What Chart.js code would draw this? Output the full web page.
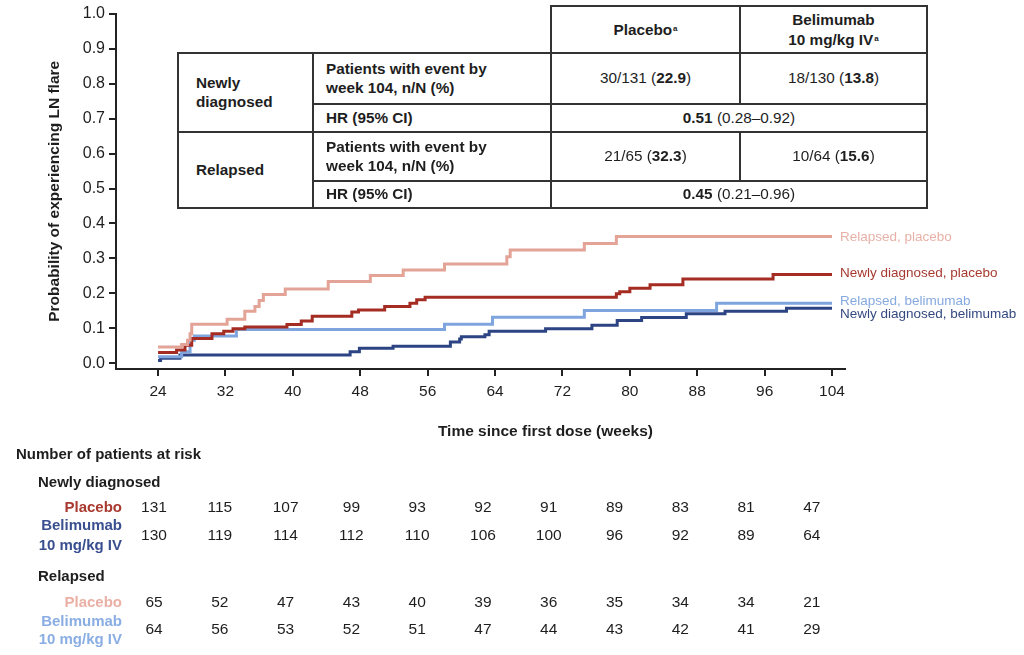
<!DOCTYPE html>
<html><head><meta charset="utf-8">
<script src="https://cdn.jsdelivr.net/npm/chart.js@4"></script>
<style>
html,body{margin:0;padding:0;background:#fff;}
#wrap{position:relative;width:1024px;height:655px;overflow:hidden;background:#fff;}
canvas{position:absolute;left:0;top:0;}
.c{position:absolute;box-sizing:border-box;border:2px solid #333;background:#fff;display:flex;align-items:center;font-family:"Liberation Sans",Arial,sans-serif;font-size:15.3px;color:#1e1e1e;line-height:18.5px;}
.ctr{justify-content:center;text-align:center;}
.lft{justify-content:flex-start;text-align:left;}
.b{font-weight:bold;}
.hd{line-height:20px;}
sup{font-size:8px;vertical-align:top;position:relative;top:-1px;margin-left:1px;}
</style></head><body>
<div id="wrap"><canvas id="c" width="1024" height="655"></canvas><div id="tbl"></div></div>
<script>
// ---------- data ----------
const xTicks = [24, 32, 40, 48, 56, 64, 72, 80, 88, 96, 104];
const yTicks = [0, 0.1, 0.2, 0.3, 0.4, 0.5, 0.6, 0.7, 0.8, 0.9, 1.0];

const relPlaceboWeeks = [24, 26.8, 27.5, 27.8, 28.0, 32.2, 34.3, 35.5, 36.0, 36.5, 39.1, 44.2, 49.2, 53.1, 58.0, 65.4, 65.8, 74.6, 78.4, 104];
const relPlaceboProb  = [0.047, 0.054, 0.066, 0.085, 0.112, 0.126, 0.149, 0.163, 0.180, 0.197, 0.213, 0.234, 0.251, 0.267, 0.284, 0.305, 0.324, 0.343, 0.363, 0.363];

const newPlaceboWeeks = [24, 26.2, 27.2, 28.0, 30.4, 31.8, 32.9, 34.3, 39.3, 41.0, 42.3, 47.0, 47.8, 50.9, 53.9, 54.7, 55.7, 78.4, 78.8, 80.0, 82.4, 86.3, 97.0, 104];
const newPlaceboProb  = [0.031, 0.038, 0.052, 0.071, 0.085, 0.092, 0.099, 0.104, 0.111, 0.121, 0.135, 0.147, 0.153, 0.163, 0.172, 0.182, 0.189, 0.199, 0.205, 0.215, 0.225, 0.241, 0.254, 0.254];

const relBeliWeeks = [24, 26.8, 27.8, 28.3, 33.3, 58.0, 63.7, 74.6, 90.3, 104];
const relBeliProb  = [0.019, 0.033, 0.066, 0.078, 0.097, 0.112, 0.132, 0.151, 0.172, 0.172];

const newBeliWeeks = [24, 24.3, 26.6, 46.8, 47.9, 51.9, 58.7, 59.8, 60.0, 62.8, 63.3, 70.0, 75.5, 78.5, 81.4, 86.7, 91.3, 98.6, 104];
const newBeliProb  = [0.008, 0.015, 0.024, 0.033, 0.043, 0.049, 0.061, 0.070, 0.076, 0.082, 0.092, 0.099, 0.109, 0.123, 0.131, 0.142, 0.149, 0.158, 0.158];

const seriesLabels = ['Relapsed, placebo', 'Newly diagnosed, placebo', 'Relapsed, belimumab', 'Newly diagnosed, belimumab'];

const riskWeeks = [24, 32, 40, 48, 56, 64, 72, 80, 88, 96, 104];
const riskNewPlacebo = [131, 115, 107, 99, 93, 92, 91, 89, 83, 81, 47];
const riskNewBeli    = [130, 119, 114, 112, 110, 106, 100, 96, 92, 89, 64];
const riskRelPlacebo = [65, 52, 47, 43, 40, 39, 36, 35, 34, 34, 21];
const riskRelBeli    = [64, 56, 53, 52, 51, 47, 44, 43, 42, 41, 29];

// ---------- styles ----------
const FAM = '"Liberation Sans", Arial, sans-serif';
const lineColors  = ['#E3A397', '#A52C23', '#7FA5DE', '#2D4484'];
const labelColors = ['#E8B1A7', '#A63A30', '#86A9E0', '#34497F'];
const labelDy = [1, -1, -2, 6];

function pts(w, p) { return w.map((x, i) => ({x: x, y: p[i]})); }

// ---------- summary table (HTML overlay) ----------
const cells = [
  [551, 6, 740, 53, 'Placebo<sup>a</sup>', 'ctr b hd'],
  [740, 6, 927, 53, 'Belimumab<br>10 mg/kg IV<sup>a</sup>', 'ctr b hd'],
  [178, 53, 313, 132, 'Newly<br>diagnosed', 'lft b'],
  [313, 53, 551, 104, 'Patients with event by<br>week 104, n/N (%)', 'lft b'],
  [551, 53, 740, 104, '30/131 (<b>22.9</b>)', 'ctr'],
  [740, 53, 927, 104, '18/130 (<b>13.8</b>)', 'ctr'],
  [313, 104, 551, 132, 'HR (95% CI)', 'lft b'],
  [551, 104, 927, 132, '<b>0.51</b>&nbsp;(0.28–0.92)', 'ctr'],
  [178, 132, 313, 208, 'Relapsed', 'lft b'],
  [313, 132, 551, 181, 'Patients with event by<br>week 104, n/N (%)', 'lft b'],
  [551, 132, 740, 181, '21/65 (<b>32.3</b>)', 'ctr'],
  [740, 132, 927, 181, '10/64 (<b>15.6</b>)', 'ctr'],
  [313, 181, 551, 208, 'HR (95% CI)', 'lft b'],
  [551, 181, 927, 208, '<b>0.45</b>&nbsp;(0.21–0.96)', 'ctr']
];
const tbl = document.getElementById('tbl');
cells.forEach(c => {
  const d = document.createElement('div');
  d.className = 'c ' + c[5];
  d.style.left = (c[0] - 1) + 'px';
  d.style.top = (c[1] - 1) + 'px';
  d.style.width = (c[2] - c[0] + 2) + 'px';
  d.style.height = (c[3] - c[1] + 2) + 'px';
  if (c[5].indexOf('lft') >= 0) d.style.paddingLeft = (c[0] === 178 ? 17 : 12) + 'px';
  d.innerHTML = '<div>' + c[4] + '</div>';
  tbl.appendChild(d);
});

// ---------- plugin for labels, x title, risk table ----------
const extras = {
  id: 'extras',
  afterDraw(chart) {
    const ctx = chart.ctx;
    const xs = chart.scales.x;
    ctx.save();
    // end labels
    chart.data.datasets.forEach((ds, i) => {
      const meta = chart.getDatasetMeta(i);
      const last = meta.data[meta.data.length - 1];
      ctx.font = '13.5px ' + FAM;
      ctx.fillStyle = labelColors[i];
      ctx.textAlign = 'left';
      ctx.textBaseline = 'middle';
      ctx.fillText(seriesLabels[i], last.x + 8, last.y + labelDy[i]);
    });
    // x title
    ctx.font = 'bold 15.5px ' + FAM;
    ctx.fillStyle = '#1e1e1e';
    ctx.textAlign = 'center';
    ctx.textBaseline = 'middle';
    ctx.fillText('Time since first dose (weeks)', xs.getPixelForValue(72) - 17, 432);

    // risk table
    ctx.textAlign = 'left';
    ctx.font = 'bold 15px ' + FAM;
    ctx.fillText('Number of patients at risk', 16, 455);
    ctx.fillText('Newly diagnosed', 38, 483);
    ctx.fillText('Relapsed', 38, 577);

    const rows = [
      {vals: riskNewPlacebo, y: 508, lab: ['Placebo'], ly: [508], col: '#A93A30'},
      {vals: riskNewBeli, y: 535.7, lab: ['Belimumab', '10 mg/kg IV'], ly: [526, 546], col: '#3A4F8F'},
      {vals: riskRelPlacebo, y: 603, lab: ['Placebo'], ly: [603], col: '#EBB0A5'},
      {vals: riskRelBeli, y: 630, lab: ['Belimumab', '10 mg/kg IV'], ly: [622, 640], col: '#8AAEE3'}
    ];
    const x0 = xs.getPixelForValue(riskWeeks[0]);
    rows.forEach(r => {
      ctx.font = 'bold 15px ' + FAM;
      ctx.fillStyle = r.col;
      ctx.textAlign = 'right';
      r.lab.forEach((t, k) => ctx.fillText(t, 122, r.ly[k]));
      ctx.font = '15.5px ' + FAM;
      ctx.fillStyle = '#1e1e1e';
      ctx.textAlign = 'center';
      r.vals.forEach((v, k) => {
        const px = x0 + (xs.getPixelForValue(riskWeeks[k]) - x0) * 0.976 - 4;
        ctx.fillText(String(v), px, r.y);
      });
    });
    ctx.restore();
  }
};

const datasets = [
  [relPlaceboWeeks, relPlaceboProb],
  [newPlaceboWeeks, newPlaceboProb],
  [relBeliWeeks, relBeliProb],
  [newBeliWeeks, newBeliProb]
].map((s, i) => ({
  label: seriesLabels[i],
  data: pts(s[0], s[1]),
  borderColor: lineColors[i],
  borderWidth: 3,
  pointRadius: 0,
  stepped: true,
  fill: false,
  tension: 0
}));

new Chart(document.getElementById('c').getContext('2d'), {
  type: 'line',
  data: {datasets: datasets},
  options: {
    responsive: false,
    animation: false,
    devicePixelRatio: 1,
    layout: {padding: {left: 0, right: 179, top: 11, bottom: 0}},
    plugins: {legend: {display: false}, tooltip: {enabled: false}},
    scales: {
      x: {
        type: 'linear', min: 19.01, max: 105.54,
        afterBuildTicks: s => { s.ticks = xTicks.map(v => ({value: v})); },
        grid: {drawOnChartArea: false, tickLength: 7, color: '#222', lineWidth: 2},
        border: {color: '#222', width: 2},
        ticks: {font: {family: FAM, size: 15.5}, color: '#1e1e1e', padding: 6, maxRotation: 0, autoSkip: false},
        afterFit: s => { s.height = 286; }
      },
      y: {
        type: 'linear', min: -0.016, max: 1,
        afterBuildTicks: s => { s.ticks = yTicks.map(v => ({value: v})); },
        grid: {drawOnChartArea: false, tickLength: 7, color: '#222', lineWidth: 2},
        border: {color: '#222', width: 2},
        ticks: {font: {family: FAM, size: 16}, color: '#1e1e1e', padding: 4, autoSkip: false,
                callback: v => Number(v).toFixed(1)},
        title: {display: true, text: 'Probability of experiencing LN flare',
                font: {family: FAM, size: 15.5, weight: 'bold'}, color: '#1e1e1e',
                padding: {top: 45, bottom: 0}},
        afterFit: s => { s.width = 116; }
      }
    }
  },
  plugins: [extras]
});
</script>
</body></html>
